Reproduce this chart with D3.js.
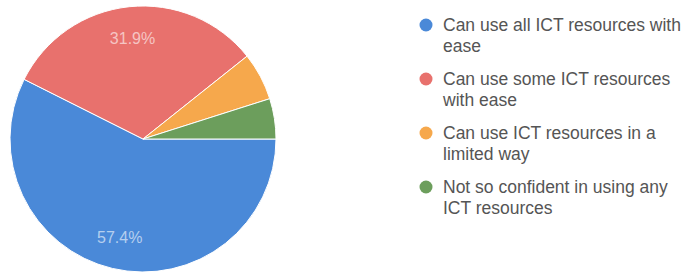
<!DOCTYPE html>
<html>
<head>
<meta charset="utf-8">
<script src="https://cdn.jsdelivr.net/npm/d3@7"></script>
<style>
  html, body { margin: 0; padding: 0; background: #ffffff; }
  svg { display: block; }
</style>
</head>
<body>
<svg id="chart" width="690" height="276"></svg>
<script>
const categories = [
  "Can use all ICT resources with ease",
  "Can use some ICT resources with ease",
  "Can use ICT resources in a limited way",
  "Not so confident in using any ICT resources"
];
const legendLines = [
  ["Can use all ICT resources with", "ease"],
  ["Can use some ICT resources", "with ease"],
  ["Can use ICT resources in a", "limited way"],
  ["Not so confident in using any", "ICT resources"]
];
const values = [57.4, 31.9, 5.8, 4.9];
const shownLabels = ["57.4%", "31.9%", "", ""];
const colors = ["#4a89d8", "#e8716d", "#f6a84c", "#6c9e5c"];

const svg = d3.select("#chart");
const cx = 143, cy = 139, r = 133;

const pie = d3.pie().value(d => d).sort(null)
  .startAngle(Math.PI / 2).endAngle(Math.PI / 2 + 2 * Math.PI);
const arcs = pie(values);
const arc = d3.arc().innerRadius(0).outerRadius(r);
const labelArc = d3.arc().innerRadius(r * 0.76).outerRadius(r * 0.76);

const g = svg.append("g").attr("transform", `translate(${cx},${cy})`);
g.selectAll("path").data(arcs).join("path")
  .attr("d", arc)
  .attr("fill", (d, i) => colors[i])
  .attr("stroke", "#ffffff")
  .attr("stroke-width", 1);

g.selectAll("text").data(arcs).join("text")
  .attr("transform", d => `translate(${labelArc.centroid(d)})`)
  .attr("text-anchor", "middle")
  .attr("dy", "0.35em")
  .attr("font-family", "Liberation Sans, Arial, sans-serif")
  .attr("font-size", 16)
  .attr("fill", "#ffffff")
  .attr("fill-opacity", 0.6)
  .text((d, i) => shownLabels[i]);

const legendY = d3.scalePoint().domain(d3.range(categories.length)).range([25, 187]);
const legend = svg.append("g");
const items = legend.selectAll("g").data(categories).join("g")
  .attr("transform", (d, i) => `translate(0,${legendY(i)})`);
items.append("circle")
  .attr("cx", 426).attr("cy", 0).attr("r", 6.5)
  .attr("fill", (d, i) => colors[i]);
items.each(function(d, i) {
  const t = d3.select(this).append("text")
    .attr("x", 443).attr("y", 0)
    .attr("font-family", "Liberation Sans, Arial, sans-serif")
    .attr("font-size", 17.5)
    .attr("fill", "#555555");
  legendLines[i].forEach((line, j) => {
    t.append("tspan").attr("x", 443).attr("y", j * 21).attr("dy", "0.35em").text(line);
  });
});
</script>
</body>
</html>
